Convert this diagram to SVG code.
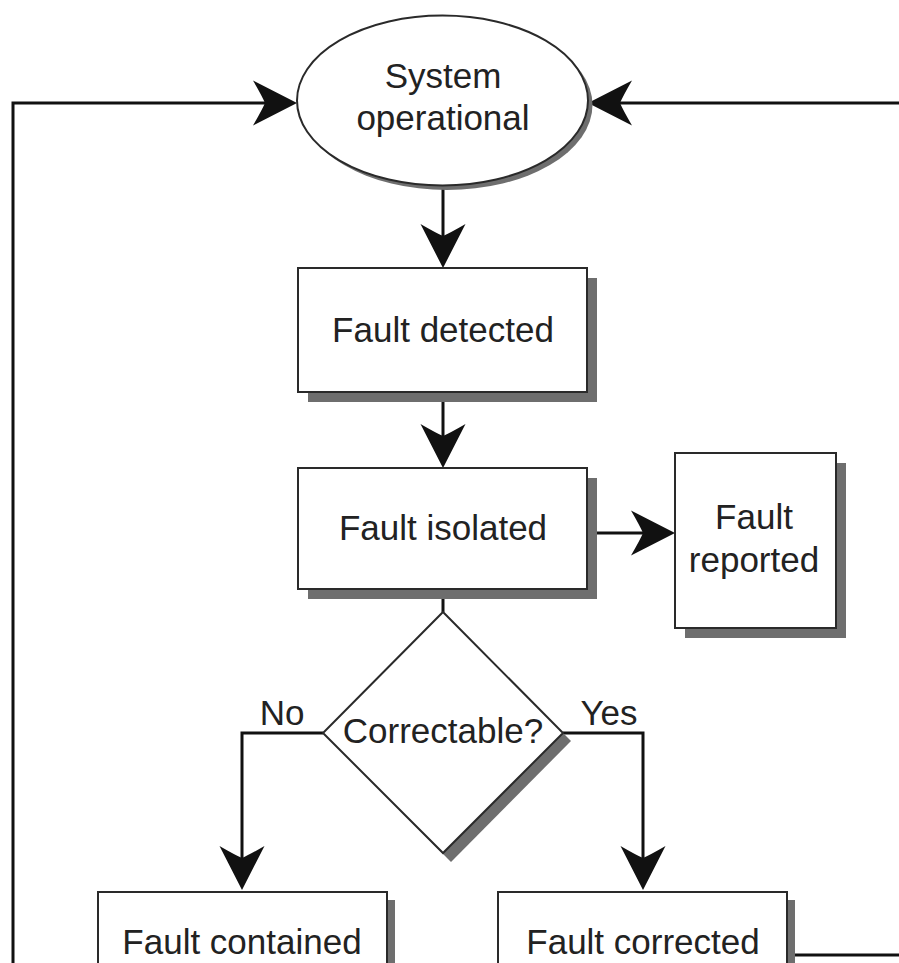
<svg xmlns="http://www.w3.org/2000/svg" width="899" height="963" viewBox="0 0 899 963">
  <style>
    .node { fill: #ffffff; stroke: #2a2a2a; stroke-width: 2; }
    .shadow { fill: #6e6e6e; stroke: none; }
    .label { font-family: "Liberation Sans", Arial, sans-serif; font-size: 35px; fill: #222222; text-anchor: middle; }
    .wire { fill: none; stroke: #111111; stroke-width: 3; }
    .arrow { marker-end: url(#barb); }
  </style>
  <defs>
    <!-- barbed arrowhead; the line ends at the notch, the tip sits 32px further on -->
    <marker id="barb" markerUnits="userSpaceOnUse" orient="auto" overflow="visible" markerWidth="1" markerHeight="1" refX="0" refY="0">
      <path d="M32,0 L-12,-22.5 Q-3,-7 0,0 Q-3,7 -12,22.5 Z" fill="#111111"/>
    </marker>
  </defs>

  <rect x="0" y="0" width="899" height="963" fill="#ffffff"/>

  <!-- connectors -->
  <g id="connectors">
    <path class="wire arrow" d="M443,186 L443,236"/>
    <path class="wire arrow" d="M443,392 L443,436"/>
    <path class="wire" d="M443,589 L443,612"/>
    <path class="wire arrow" d="M587,533 L643,533"/>
    <path class="wire arrow" d="M323,733 L242,733 L242,858"/>
    <path class="wire arrow" d="M563,733 L643,733 L643,858"/>
    <path class="wire" d="M787,955 L899,955"/>
    <path class="wire arrow" d="M13,963 L13,103 L265,103"/>
    <path class="wire arrow" d="M899,103 L620,103"/>
  </g>

  <!-- start / end state -->
  <g id="system-operational">
    <ellipse class="shadow" cx="447" cy="105" rx="145.5" ry="85"/>
    <ellipse class="node" cx="442.5" cy="100.5" rx="145.5" ry="85" stroke-width="1.6"/>
    <text class="label" x="443" y="88">System</text>
    <text class="label" x="443" y="130">operational</text>
  </g>

  <g id="fault-detected">
    <rect class="shadow" x="308" y="278" width="289" height="124"/>
    <rect class="node" x="298" y="268" width="289" height="124"/>
    <text class="label" x="443" y="342">Fault detected</text>
  </g>

  <g id="fault-isolated">
    <rect class="shadow" x="308" y="478" width="289" height="121"/>
    <rect class="node" x="298" y="468" width="289" height="121"/>
    <text class="label" x="443" y="540">Fault isolated</text>
  </g>

  <g id="fault-reported">
    <rect class="shadow" x="685" y="463" width="161" height="175"/>
    <rect class="node" x="675" y="453" width="161" height="175"/>
    <text class="label" x="754" y="529">Fault</text>
    <text class="label" x="754" y="572">reported</text>
  </g>

  <g id="correctable">
    <polygon class="shadow" points="451,620 571,741 451,862 331,741"/>
    <polygon class="node" points="443,612 563,733 443,853 323,733" stroke-width="1.6"/>
    <text class="label" x="443" y="743">Correctable?</text>
  </g>

  <g id="branch-labels">
    <text class="label" x="282" y="725">No</text>
    <text class="label" x="609" y="725">Yes</text>
  </g>

  <g id="fault-contained">
    <rect class="shadow" x="106" y="900" width="289" height="120"/>
    <rect class="node" x="98" y="892" width="289" height="120"/>
    <text class="label" x="242" y="954">Fault contained</text>
  </g>

  <g id="fault-corrected">
    <rect class="shadow" x="506" y="900" width="289" height="120"/>
    <rect class="node" x="498" y="892" width="289" height="120"/>
    <text class="label" x="643" y="954">Fault corrected</text>
  </g>
</svg>
